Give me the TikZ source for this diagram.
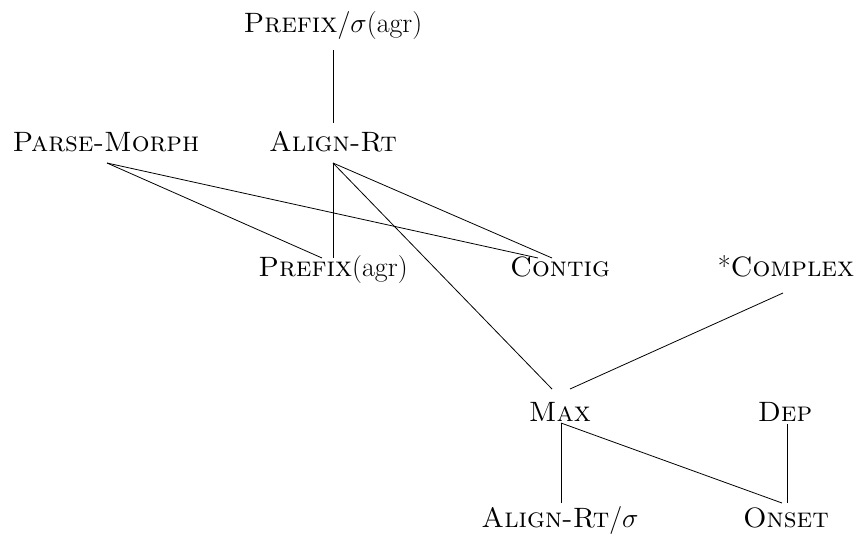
\documentclass[tikz,border=0pt]{standalone}
\begin{document}
\begin{tikzpicture}[x=0.75pt,y=-0.75pt,
  lab/.style={anchor=base,inner sep=0pt,font=\fontsize{21}{25}\selectfont},
  edge/.style={line width=0.6pt,black}]
\useasboundingbox (0,0) rectangle (857,540);
\node[lab] (PS) at (333,32) {\textsc{Prefix}/$\sigma$(agr)};
\node[lab] (AR) at (333,151) {\textsc{Align-Rt}};
\node[lab] (PM) at (106,151) {\textsc{Parse-Morph}};
\node[lab] (PA) at (333,276) {\textsc{Prefix}(agr)};
\node[lab] (CO) at (560,276) {\textsc{Contig}};
\node[lab] (CX) at (786,276) {*\textsc{Complex}};
\node[lab] (MX) at (560,421) {\textsc{Max}};
\node[lab] (DP) at (785,421) {\textsc{Dep}};
\node[lab] (AS) at (560,527) {\textsc{Align-Rt}/$\sigma$};
\node[lab] (ON) at (786,527) {\textsc{Onset}};
\draw[edge] ([shift={(0,18)}]PS.base) -- ([shift={(0,-28)}]AR.base);
\draw[edge] ([shift={(1,12)}]PM.base) -- ([shift={(-11,-18)}]PA.base);
\draw[edge] ([shift={(1,12)}]PM.base) -- ([shift={(-22,-18)}]CO.base);
\draw[edge] ([shift={(0,12)}]AR.base) -- ([shift={(0,-18)}]PA.base);
\draw[edge] ([shift={(0,12)}]AR.base) -- ([shift={(-8,-18)}]CO.base);
\draw[edge] ([shift={(0,12)}]AR.base) -- ([shift={(-8,-32)}]MX.base);
\draw[edge] ([shift={(-3,17)}]CX.base) -- ([shift={(10,-32)}]MX.base);
\draw[edge] ([shift={(1,2)}]MX.base) -- ([shift={(1,-24)}]AS.base);
\draw[edge] ([shift={(1,2)}]MX.base) -- ([shift={(-4,-24)}]ON.base);
\draw[edge] ([shift={(2,3)}]DP.base) -- ([shift={(1,-24)}]ON.base);
\end{tikzpicture}
\end{document}
